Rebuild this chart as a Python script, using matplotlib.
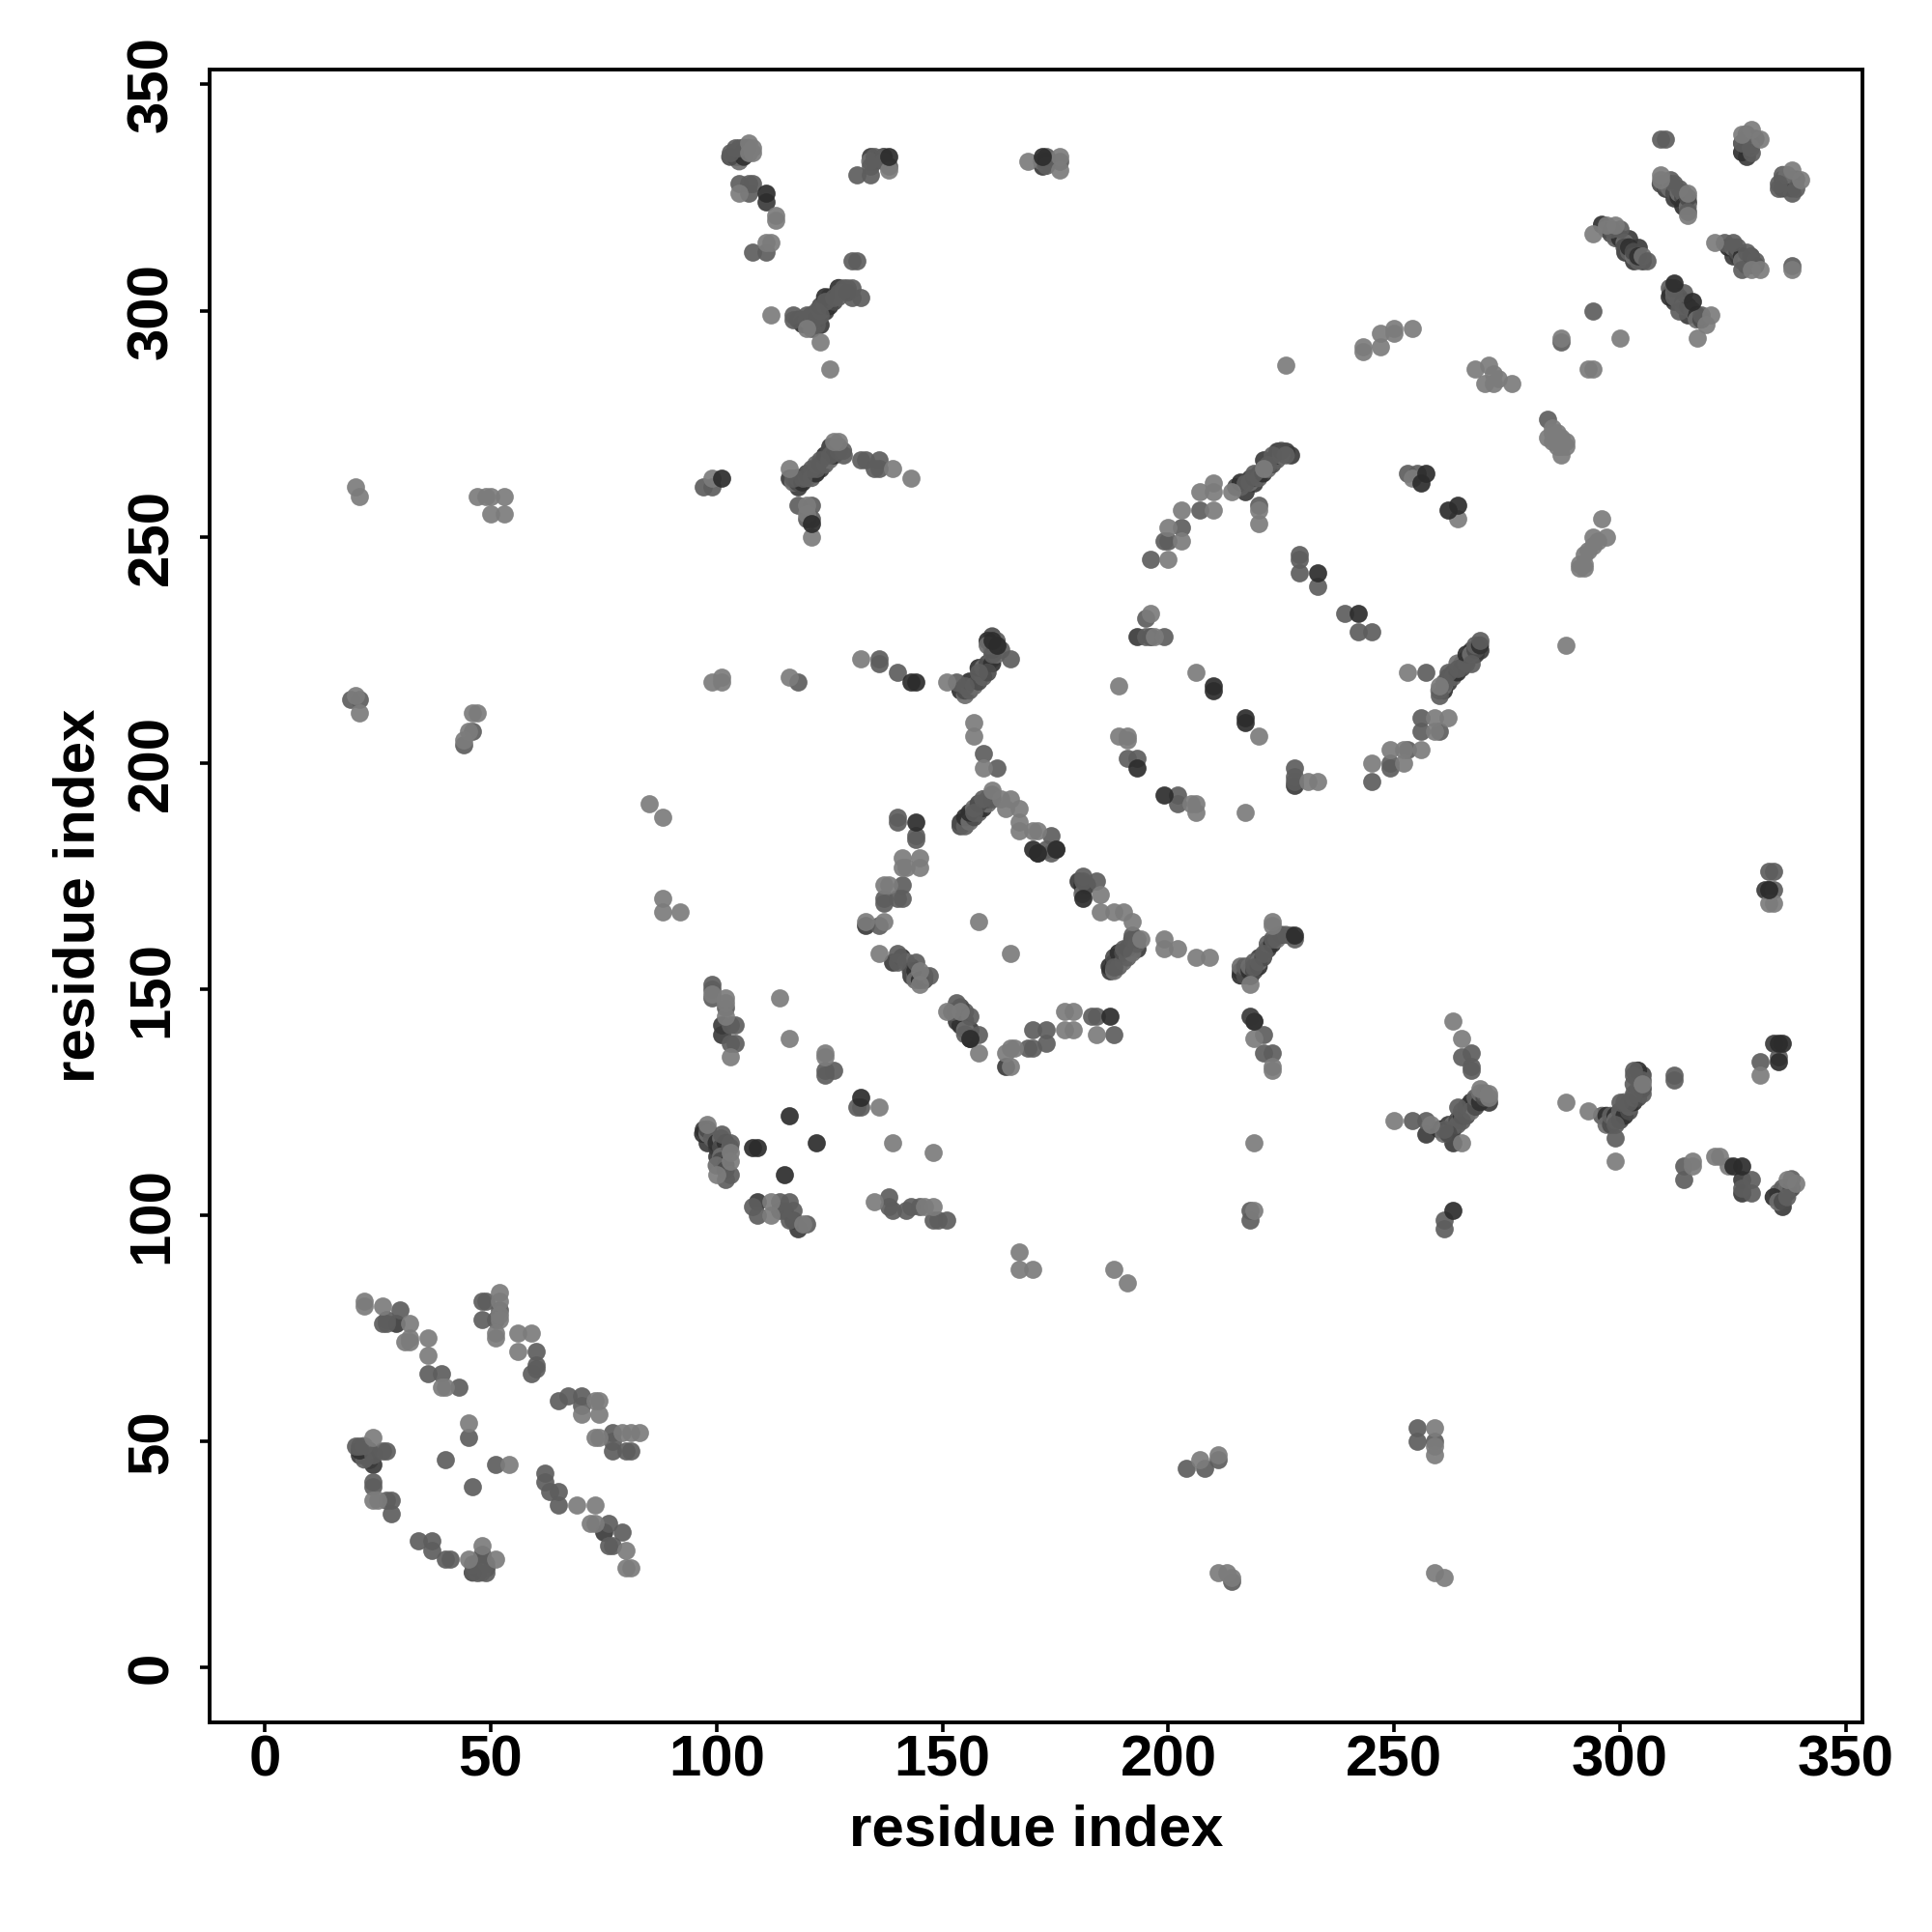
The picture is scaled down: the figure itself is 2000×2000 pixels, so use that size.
import matplotlib
matplotlib.use("Agg")
import matplotlib.pyplot as plt

plt.rcParams['font.family'] = ['Liberation Sans', 'DejaVu Sans']
plt.rcParams['font.weight'] = 'bold'

tick_values = [0, 50, 100, 150, 200, 250, 300, 350]
axis_title = "residue index"

# dark contacts that lie underneath the others
dark_under = [
 (29,76),(21,47),(23,46),(24,45),(48,23),(47,22),(49,22),(75,30),
 (104,334),(105,335),(134,334),(172,332),(111,324),(120,297),(123,297),(124,300),(125,302),(123,265),(124,267),(125,270),(116,263),(118,261),(121,264),
 (217,260),(218,263),(219,262),(220,264),(221,267),(223,267),(224,269),(226,269),(227,268),
 (262,218),(263,220),(265,222),(266,223),(267,225),(268,224),(269,225),(228,195),(193,228),(196,228),
 (154,187),(155,187),(156,188),(158,190),(159,191),(171,180),(181,172),(180,174),(133,164),(143,155),(143,153),(139,156),
 (187,154),(188,156),(189,157),(192,160),(193,159),(216,154),(217,154),(218,153),(220,157),(222,159),
 (153,143),(156,141),(156,139),(164,133),(218,144),(97,119),(98,116),(100,115),(100,113),(101,142),(101,140),
 (117,99),(118,97),(115,101),(109,103),(271,125),(262,120),(263,116),(266,123),(257,118),(327,105),(327,108),(336,102),(335,104),
 (302,316),(304,314),(303,311),(305,311),(301,313),(311,304),(312,302),(315,299),(310,327),(312,325),(315,324),(328,336),(328,334),(337,329),
 (326,312),(325,312),(333,172),(332,172),(334,138),(298,121),(301,124),
]

# members of the densely packed diagonal runs
run_points = [
 (296,319),(297,318),(298,317),(299,316),(300,316),(301,315),(301,314),(302,313),(302,314),(303,312),(303,313),(304,311),(304,312),(305,312),
 (309,328),(310,328),(311,328),(311,327),(312,326),(312,328),(313,325),(313,326),(314,325),(314,326),(314,323),(315,323),(315,325),
 (311,305),(311,303),(312,304),(313,303),(313,302),(314,302),(314,301),(315,301),(316,300),(317,299),(317,298),(318,298),(312,303),
 (324,314),(325,314),(326,313),(326,314),(327,312),(328,311),(328,310),(329,310),(330,310),(327,311),(329,312),
 (327,337),(328,338),(329,337),(330,338),(328,339),(327,335),(329,336),
 (336,329),(337,328),(336,327),(338,329),(339,329),(336,330),(338,327),(337,330),
 (215,261),(216,261),(216,262),(218,262),(219,263),(220,263),(221,264),(222,265),(223,266),(224,267),(224,268),(225,268),(225,269),(226,268),
 (261,216),(261,217),(262,219),(263,219),(264,220),(264,222),(265,221),(266,222),(266,224),(267,224),(268,225),(268,226),(269,226),(260,216),
 (154,186),(155,186),(155,188),(156,187),(157,188),(158,189),(159,190),(160,191),(160,192),(161,193),(156,189),(157,190),(158,191),(159,192),
 (187,155),(188,154),(188,157),(189,155),(189,158),(190,156),(190,158),(191,157),(191,159),(192,158),(192,161),(193,160),
 (216,153),(216,155),(217,153),(217,155),(218,154),(218,155),(219,154),(219,156),(220,155),(220,156),(221,157),(222,160),(223,160),(224,161),(225,162),(226,162),
 (154,216),(155,215),(155,216),(156,216),(156,218),(157,217),(158,218),(159,219),(158,221),(159,221),(160,222),(161,223),(161,222),(162,224),(160,220),(163,225),(161,225),(161,226),(161,228),(162,227),(160,227),(160,226),
 (118,298),(119,298),(119,297),(120,298),(121,298),(121,299),(122,298),(123,300),(123,301),(124,301),(125,301),(125,303),(126,302),(127,303),(127,305),(128,304),(129,304),(121,297),(124,303),
 (117,262),(118,262),(118,263),(119,262),(120,263),(120,264),(121,263),(122,264),(122,266),(123,266),(124,266),(124,268),(125,267),(125,269),(126,269),(126,268),(127,270),(127,269),(128,269),
 (97,118),(98,118),(98,119),(99,117),(100,116),(101,117),(101,115),(102,114),(102,116),(101,113),(101,112),(103,115),(102,111),(100,111),(102,110),
 (262,119),(263,119),(263,120),(264,121),(264,120),(265,122),(265,123),(266,122),(266,124),(267,125),(267,123),(268,124),(268,126),(269,125),(269,127),(270,126),(270,127),(260,119),(261,118),(262,118),
 (296,122),(297,122),(297,120),(298,120),(298,122),(299,122),(299,121),(300,121),(300,123),(301,122),(301,125),(302,123),(302,124),(303,125),(303,126),(304,126),(304,128),(305,128),(304,130),(305,131),(303,129),(304,132),
 (335,105),(336,104),(336,106),(337,105),(337,106),(338,106),(338,108),(334,104),(335,103),(336,103),(337,104),
 (153,145),(154,144),(155,143),(155,145),(154,142),(155,141),(154,146),(155,140),
 (141,157),(142,156),(143,154),(144,153),(144,154),(144,152),(146,152),(146,153),(145,152),
 (104,335),(105,334),(106,336),(106,335),(105,333),(103,334),(107,336),(106,334),
 (172,333),(173,333),(173,332),(135,333),(134,333),(137,334),(137,333),
 (22,47),(22,48),(23,48),(22,46),(21,48),(22,49),(47,23),(48,22),(48,24),(48,21),(46,21),(49,23),
 (181,173),(181,171),(182,173),
]

mid = [
 (27,77),(27,76),(26,76),(30,79),(39,65),(36,65),(43,62),(48,81),(49,81),(48,77),(52,79),(51,77),(60,70),(60,67),(60,66),(59,65),
 (65,59),(67,60),(70,60),(70,58),(77,52),(77,48),(77,50),(80,48),(81,48),(20,49),(21,49),(26,48),(27,48),(24,47),
 (24,41),(24,40),(27,37),(28,37),(28,34),(40,46),(45,51),(46,40),(51,45),(62,43),(62,41),(63,39),(65,39),(65,36),
 (76,32),(79,30),(76,27),(77,27),(34,28),(37,28),(37,26),(40,24),(41,24),(48,25),(46,23),(47,21),(49,21),
 (103,335),(104,336),(105,336),(105,328),(107,328),(108,328),(107,326),(108,313),(111,313),
 (117,299),(117,298),(120,299),(121,296),(122,297),(122,299),(122,300),(123,299),(124,302),(126,303),(127,304),(128,305),(129,305),(130,305),(130,303),(132,303),
 (130,311),(131,311),(135,334),(134,332),(131,330),(134,330),(138,332),
 (173,334),(176,333),(97,261),(99,261),(117,263),(119,263),(121,265),(122,265),(123,267),(125,268),(128,268),
 (118,257),(121,257),(120,254),(121,254),(132,267),(133,267),(136,267),(135,265),(136,265),(196,245),
 (199,249),(200,249),(203,252),(207,256),(217,262),(219,264),(222,266),(223,268),
 (220,257),(253,264),(255,264),(229,246),(229,245),(229,242),(233,239),(239,233),(242,229),(245,229),(195,232),(195,228),(199,228),
 (191,201),(193,201),(202,193),(202,191),(228,199),(228,197),(228,196),(245,196),(249,199),(249,200),(256,207),
 (260,215),(261,218),(262,220),(264,221),(267,222),(269,227),(257,220),
 (140,188),(140,187),(144,184),(144,183),(141,173),(137,170),(137,169),(141,170),(140,170),(136,164),
 (140,158),(140,156),(144,156),(147,153),(153,147),(152,145),(156,144),(158,140),(169,137),(170,137),(170,141),(173,141),(173,138),(183,144),(184,144),(188,140),
 (219,155),(221,158),(223,161),(224,162),(228,161),(227,162),(188,155),(190,159),(193,161),(192,162),(181,175),(181,174),(184,174),(174,184),(175,181),(174,180),(173,181),(157,189),(161,192),
 (99,151),(99,150),(99,148),(102,146),(103,142),(104,142),(103,138),(104,138),(124,132),(124,131),(126,132),(132,124),(131,124),(103,109),(102,108),
 (101,118),(103,116),(108,102),(109,100),(114,103),(114,101),(116,103),(117,101),(116,99),(120,98),
 (138,104),(138,102),(139,101),(142,101),(143,102),(145,102),(149,99),(151,99),(148,99),
 (221,136),(221,140),(223,136),(218,101),(218,99),(261,99),(261,97),(265,135),(267,136),(267,133),(267,132),(264,124),(265,121),(261,119),(254,121),(257,121),
 (303,132),(303,131),(305,130),(305,127),(303,127),(302,125),(300,125),(299,120),(299,117),(312,131),(312,130),(331,134),(327,106),(329,105),(329,108),(314,111),(314,108),(335,135),
 (294,300),(309,338),(310,338),(313,327),(311,329),(315,322),(300,318),(298,318),(306,311),(312,305),(314,304),(313,300),(318,299),
 (323,315),(325,315),(328,313),(330,311),(327,309),(335,328),(335,327),(339,327),(338,326),(327,337),(329,335),
 (338,310),(255,53),(255,50),(259,50),(204,44),(208,44),(211,46),(214,19),(284,276),(287,293),(333,176),(334,172),(334,176),
 (136,222),(140,220),(136,223),(155,217),(158,220),(161,224),(165,223),(159,202),(162,199),(153,218),
 (44,204),(21,214),(19,214),(46,207),(118,218),(253,203),(260,207),(256,210),
]

light = [
 (22,81),(22,80),(26,80),(32,76),(31,72),(32,72),(32,73),(36,73),(36,69),(40,62),(39,62),(52,83),(52,81),(52,78),(52,77),(51,74),(51,73),
 (56,74),(59,74),(56,70),(70,56),(73,59),(74,59),(74,56),(73,51),(74,51),(79,52),(81,52),(83,52),
 (24,51),(24,37),(25,37),(45,54),(54,45),(69,36),(73,36),(72,32),(73,32),(80,26),(80,22),(81,22),(51,24),(45,24),(48,27),
 (107,337),(108,336),(108,335),(107,335),(105,326),(113,321),(113,320),(111,315),(112,315),
 (112,299),(120,296),(123,293),(125,287),(169,333),(176,331),(176,334),(138,331),
 (99,263),(116,265),(127,271),(126,271),(120,257),(121,250),(120,255),(139,265),(143,263),
 (200,245),(200,252),(203,249),(203,256),(210,256),(207,260),(210,262),(210,260),(214,260),(220,253),(220,256),(221,265),
 (254,263),(264,254),(196,233),(197,228),(206,220),(189,217),(220,206),(189,206),(191,206),(191,205),(205,191),(206,191),(206,189),(217,189),
 (231,196),(233,196),(245,200),(249,203),(252,200),(252,203),(256,203),(259,207),(259,210),(262,210),(260,217),(253,220),(288,226),(284,272),(286,273),(285,271),(288,271),(287,268),(286,270),
 (285,274),(286,272),(287,270),(285,273),(287,272),(286,271),(288,270),
 (294,250),(292,246),(291,243),(292,243),(296,254),(293,247),(297,250),(295,249),(294,248),(291,244),(292,244),
 (137,173),(138,173),(141,179),(141,177),(142,177),(145,179),(145,177),(133,165),(137,165),(158,165),(165,158),
 (136,158),(145,154),(145,151),(151,145),(154,145),(158,136),(165,137),(166,137),(165,133),(164,136),(177,145),(179,145),(177,141),(179,141),(184,140),
 (218,151),(223,165),(223,164),(199,161),(199,159),(202,159),(206,157),(209,157),(194,161),(192,165),(190,167),(188,167),(185,167),(185,171),(167,190),(167,187),(167,185),(170,185),(171,185),(161,194),(163,192),(165,192),(164,190),
 (99,149),(102,148),(102,147),(102,144),(103,135),(114,148),(116,139),(124,136),(124,135),(136,124),(139,116),(148,114),
 (98,120),(103,114),(103,112),(100,109),(112,103),(112,100),(119,98),(135,103),(146,102),(148,102),
 (219,143),(219,139),(223,133),(223,132),(265,139),(263,143),(269,128),(271,127),(271,126),(265,116),(250,121),(258,120),
 (219,116),(219,101),(288,125),(293,123),(299,112),(305,129),(331,131),(321,113),(322,113),(316,112),(316,111),(324,111),(337,108),(339,107),
 (268,287),(271,288),(272,286),(273,285),(270,284),(272,284),(276,284),(287,294),(300,294),(293,287),(294,287),(226,288),
 (243,292),(243,291),(247,292),(247,295),(250,296),(250,295),(254,296),
 (294,317),(297,319),(299,319),(320,299),(319,297),(317,294),(309,330),(309,329),(315,326),(315,321),(321,315),(331,309),(329,309),(329,340),(327,339),(331,338),(338,331),(340,329),(338,309),
 (20,261),(21,259),(47,259),(49,259),(50,259),(53,259),(50,255),(53,255),(20,215),(21,211),(46,211),(47,211),(45,207),(44,205),
 (85,191),(88,188),(88,170),(88,167),(92,167),(99,218),(101,218),(101,219),(116,219),(132,223),(151,218),(157,209),(157,206),(159,199),
 (259,53),(259,47),(259,49),(207,46),(211,47),(211,21),(213,21),(214,20),(259,21),(261,20),(167,92),(167,88),(170,88),(188,88),(191,85),(333,169),(334,169),
]

dark_top = [
 (111,326),(138,334),(172,334),(101,263),(121,253),(199,193),(193,199),(210,217),(210,216),(217,210),(217,209),(257,264),(256,262),(264,257),(262,256),
 (233,242),(242,233),(144,187),(170,181),(171,180),(175,181),(181,170),(187,144),(219,143),(156,139),(228,162),
 (108,115),(109,115),(115,109),(116,122),(122,116),(132,126),(263,101),(327,111),(325,111),(316,302),(312,306),(335,138),(336,138),(335,134),(162,226),(161,227),(144,218),(143,218),(333,172),
]

shade_under, shade_mid, shade_light, shade_dark = "#3a3a3a", "#5d5d5d", "#7c7c7c", "#2c2c2c"
run_shades = ["#303030", "#6e6e6e", "#4c4c4c", "#606060"]

fig = plt.figure(figsize=(20, 20), dpi=100)
ax = fig.add_axes([216.5/2000, 1 - 1783/2000, (1928-216.5)/2000, (1783-72)/2000])


def draw(pts, colors):
    ax.scatter([p[0] for p in pts], [p[1] for p in pts], s=182, c=colors,
               alpha=0.92, linewidths=0, zorder=3)


draw(dark_under, shade_under)
draw(run_points, [run_shades[i % len(run_shades)] for i in range(len(run_points))])
draw(mid, shade_mid)
draw(light, shade_light)
draw(dark_top, shade_dark)

ax.set_xlim(-12.34, 353.66)
ax.set_ylim(-12.1, 353.3)
ax.set_xticks(tick_values)
ax.set_yticks(tick_values)
ax.tick_params(axis='x', length=7.5, width=2.6, labelsize=43.2, pad=1.5, color='black')
ax.tick_params(axis='y', length=7.5, width=2.6, labelsize=43.2, pad=15, color='black')
for lab in ax.get_yticklabels():
    lab.set_rotation(90)
    lab.set_va('center')
for s in ax.spines.values():
    s.set_linewidth(2.8)
ax.set_xlabel(axis_title, fontsize=43.2, fontweight='bold', labelpad=12)
ax.set_ylabel(axis_title, fontsize=43.2, fontweight='bold', labelpad=15)
fig.savefig("out.png", dpi=100, facecolor='white')
